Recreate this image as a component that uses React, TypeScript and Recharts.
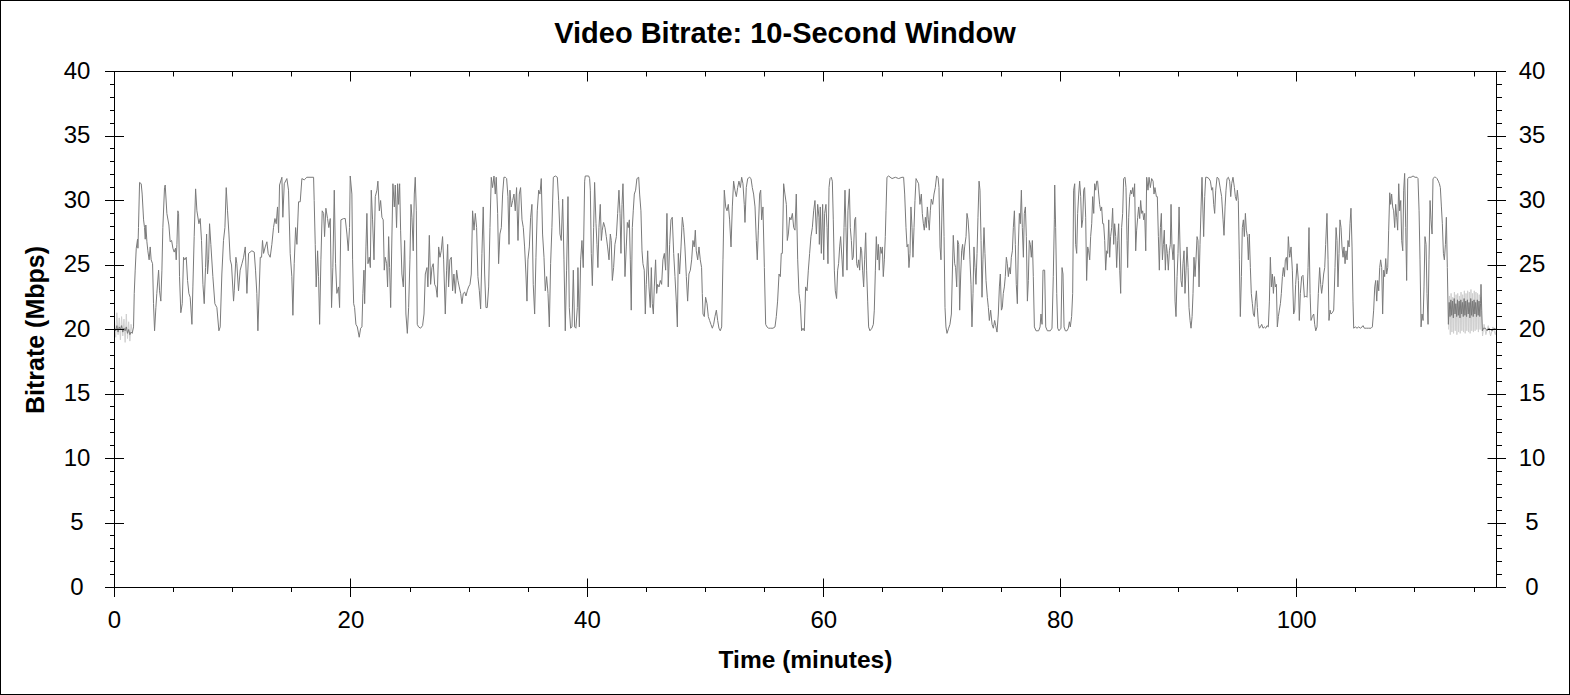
import React from 'react';
import { LineChart, Line, XAxis, YAxis } from 'recharts';

type P = [number, number];

// ---- data: [time (minutes), bitrate (Mbps)] ----
const startNoise: P[] = [
  [0, 20.1], [0.1, 19.9], [0.2, 20.3], [0.3, 19.8], [0.4, 20.2], [0.5, 20.0], [0.6, 20.3], [0.7, 19.8],
  [0.8, 20.1], [0.9, 19.9], [1.0, 20.2], [1.1, 19.7], [1.2, 20.0], [1.3, 19.6], [1.4, 19.8], [1.5, 19.7],
];
const startNoiseLight: P[] = [
  [0, 20.5], [0.1, 19.4], [0.2, 21.3], [0.3, 19.6], [0.4, 20.9], [0.5, 19.2], [0.6, 21.0], [0.7, 19.5],
  [0.8, 20.8], [0.9, 19.0], [1.0, 21.2], [1.1, 19.3], [1.2, 20.6], [1.3, 19.1], [1.4, 20.4], [1.5, 19.8],
];
const minutes0to20: P[] = [
  [1.61, 20.2], [1.67, 22.8], [1.75, 24.6], [1.84, 26.3], [1.95, 27.0], [1.98, 26.3], [2.03, 27.9], [2.12, 31.4],
  [2.26, 31.3], [2.34, 30.5], [2.46, 28.5], [2.54, 27.9], [2.60, 27.0], [2.65, 28.1], [2.74, 26.8], [2.82, 26.1],
  [2.93, 25.4], [3.02, 26.4], [3.10, 25.4], [3.22, 25.1], [3.30, 22.0], [3.39, 19.9], [3.50, 21.7], [3.58, 22.8],
  [3.73, 24.6], [3.81, 23.0], [3.92, 22.2], [4.01, 24.6], [4.09, 27.9], [4.23, 31.0], [4.29, 31.2], [4.43, 29.0],
  [4.60, 28.1], [4.71, 26.8], [4.83, 26.9], [4.94, 26.3], [5.05, 26.0], [5.16, 26.3], [5.22, 25.4], [5.28, 26.6],
  [5.36, 29.2], [5.42, 29.0], [5.50, 24.1], [5.61, 21.3], [5.73, 22.0], [5.84, 25.6], [5.95, 25.4], [6.07, 25.6],
  [6.18, 23.8], [6.29, 22.8], [6.40, 22.5], [6.55, 20.4], [6.63, 23.3], [6.74, 27.2], [6.86, 30.9], [6.97, 29.2],
  [7.14, 28.2], [7.25, 28.6], [7.36, 26.9], [7.48, 23.5], [7.59, 22.0], [7.70, 24.8], [7.79, 27.4], [7.87, 24.3],
  [7.96, 25.4], [8.04, 28.2], [8.15, 26.6], [8.32, 24.1], [8.49, 22.0], [8.66, 21.7], [8.83, 19.9], [8.94, 20.2],
  [9.08, 24.3], [9.22, 26.9], [9.34, 27.9], [9.45, 31.0], [9.56, 29.2], [9.68, 27.4], [9.79, 25.4], [9.90, 25.0],
  [10.07, 22.2], [10.13, 23.0], [10.27, 25.6], [10.35, 25.1], [10.49, 23.0], [10.63, 24.6], [10.78, 25.1], [10.92, 25.6],
  [11.06, 26.4], [11.20, 22.8], [11.34, 25.9], [11.62, 26.1], [11.82, 26.0], [11.93, 24.6], [12.04, 22.8], [12.13, 19.9],
  [12.21, 22.2], [12.33, 25.6], [12.44, 25.6], [12.52, 26.9], [12.61, 25.9], [12.75, 26.4], [12.89, 26.8], [13.00, 25.9],
  [13.17, 25.6], [13.31, 26.6], [13.45, 27.9], [13.57, 28.6], [13.68, 28.2], [13.79, 29.5], [13.88, 27.5], [13.96, 31.2],
  [14.16, 31.8], [14.24, 28.7], [14.36, 31.3], [14.58, 31.7], [14.72, 30.8], [14.86, 25.9], [15.00, 24.1], [15.09, 21.1],
  [15.20, 25.1], [15.32, 27.9], [15.43, 26.6], [15.57, 29.9], [15.71, 29.9], [15.85, 31.7], [16.05, 31.6], [16.27, 31.8],
  [16.84, 31.8], [16.89, 30.0], [16.98, 26.6], [17.06, 23.3], [17.18, 26.1], [17.26, 24.1], [17.35, 20.4], [17.46, 25.4],
  [17.57, 29.2], [17.69, 29.0], [17.77, 27.2], [17.88, 29.4], [18.02, 28.6], [18.13, 27.9], [18.25, 28.6], [18.36, 21.7],
  [18.47, 24.8], [18.59, 30.8], [18.70, 25.1], [18.81, 22.8], [18.95, 23.3], [19.04, 21.7], [19.15, 28.5], [19.38, 28.6],
  [19.52, 28.6], [19.66, 27.4], [19.77, 26.1], [19.88, 27.9],
];
const minutes20to40: P[] = [
  [19.94, 31.9], [20.08, 30.5], [20.14, 25.4], [20.23, 22.0], [20.31, 21.7], [20.42, 20.4], [20.54, 20.2], [20.70, 19.4],
  [20.82, 20.1], [20.93, 20.2], [21.01, 22.8], [21.10, 24.6], [21.16, 22.0], [21.27, 26.4], [21.35, 29.0], [21.44, 25.1],
  [21.55, 25.6], [21.64, 24.8], [21.72, 30.8], [21.83, 28.5], [21.95, 25.4], [22.06, 30.3], [22.20, 30.8], [22.28, 31.5],
  [22.40, 29.2], [22.51, 30.0], [22.62, 28.7], [22.73, 28.5], [22.82, 24.6], [22.90, 25.6], [23.02, 25.1], [23.10, 23.3],
  [23.19, 27.2], [23.27, 24.8], [23.36, 21.7], [23.47, 27.4], [23.55, 31.3], [23.67, 29.5], [23.75, 31.2], [23.86, 27.9],
  [23.95, 31.3], [24.03, 29.7], [24.12, 31.3], [24.20, 27.7], [24.31, 24.3], [24.43, 23.3], [24.54, 26.9], [24.65, 21.2],
  [24.77, 19.7], [24.88, 21.7], [24.99, 25.4], [25.08, 29.7], [25.16, 28.7], [25.27, 26.1], [25.36, 30.5], [25.44, 31.8],
  [25.53, 29.2], [25.61, 20.4], [25.72, 20.2], [25.89, 20.1], [26.06, 20.3], [26.18, 21.2], [26.29, 24.3], [26.43, 24.8],
  [26.51, 23.3], [26.63, 27.3], [26.74, 23.5], [26.85, 24.8], [26.96, 25.1], [27.08, 23.5], [27.19, 23.3], [27.30, 22.5],
  [27.42, 26.4], [27.53, 25.6], [27.64, 26.1], [27.75, 27.2], [27.84, 25.4], [27.98, 21.2], [28.09, 24.6], [28.18, 26.6],
  [28.26, 23.3], [28.37, 25.4], [28.49, 25.6], [28.60, 23.0], [28.71, 24.3], [28.83, 22.8], [28.94, 24.6], [29.05, 23.8],
  [29.16, 23.3], [29.28, 22.8], [29.39, 22.0], [29.50, 22.8], [29.62, 22.9], [29.73, 22.6], [29.84, 23.0], [29.95, 23.3],
  [30.07, 23.5], [30.18, 24.3], [30.29, 29.2], [30.41, 27.7], [30.52, 29.0], [30.63, 27.9], [30.74, 24.1], [30.86, 23.0],
  [30.97, 21.6], [31.08, 25.9], [31.19, 29.5], [31.31, 24.3], [31.42, 21.7], [31.53, 21.7], [31.65, 23.3], [31.76, 27.9],
  [31.87, 31.8], [31.98, 31.0], [32.10, 31.9], [32.21, 30.5], [32.29, 31.8], [32.41, 29.0], [32.49, 25.1], [32.60, 27.4],
  [32.72, 27.9], [32.83, 30.5], [32.94, 31.8], [33.06, 31.8], [33.17, 31.7], [33.28, 30.3], [33.37, 26.6], [33.45, 30.8],
  [33.56, 29.5], [33.68, 30.0], [33.79, 30.5], [33.90, 29.2], [34.01, 31.0], [34.13, 26.9], [34.24, 30.5], [34.35, 31.0],
  [34.47, 28.5], [34.58, 27.9], [34.69, 26.4], [34.80, 24.3], [34.89, 22.2], [34.97, 25.4], [35.09, 26.4], [35.20, 28.7],
  [35.31, 29.7], [35.42, 23.5], [35.54, 21.2], [35.65, 25.6], [35.76, 29.2], [35.88, 30.8], [35.99, 30.5], [36.10, 31.7],
  [36.21, 27.4], [36.33, 25.6], [36.44, 23.0], [36.55, 24.1], [36.67, 22.8], [36.78, 20.2], [36.89, 25.1], [37.00, 27.9],
  [37.12, 31.8], [37.29, 31.9], [37.46, 31.8], [37.57, 30.0], [37.68, 27.4], [37.79, 26.9], [37.91, 30.1], [38.02, 25.4],
  [38.13, 19.9], [38.24, 24.6], [38.36, 30.3], [38.47, 21.7], [38.58, 20.1], [38.70, 20.2], [38.81, 24.6], [38.92, 20.2],
  [39.03, 20.1], [39.15, 21.7], [39.20, 24.8], [39.32, 20.2], [39.43, 25.4], [39.54, 26.9], [39.65, 24.8], [39.77, 31.5],
];
const minutes40to60: P[] = [
  [39.82, 31.9], [40.11, 31.9], [40.19, 31.7], [40.25, 30.8], [40.33, 25.9], [40.42, 23.4], [40.53, 27.9], [40.61, 31.4],
  [40.73, 28.2], [40.81, 26.6], [40.89, 24.8], [40.98, 27.9], [41.09, 29.7], [41.18, 26.9], [41.26, 27.7], [41.37, 28.3],
  [41.49, 27.9], [41.60, 27.2], [41.71, 26.4], [41.83, 25.4], [41.94, 27.4], [42.02, 26.9], [42.11, 23.8], [42.22, 24.8],
  [42.33, 26.6], [42.45, 27.2], [42.56, 29.0], [42.67, 30.8], [42.76, 29.0], [42.84, 25.9], [42.93, 29.7], [43.01, 31.3],
  [43.09, 28.5], [43.18, 24.1], [43.29, 26.4], [43.38, 28.3], [43.46, 27.9], [43.55, 28.5], [43.63, 25.4], [43.71, 21.5],
  [43.80, 27.9], [43.88, 29.2], [43.97, 30.5], [44.08, 30.8], [44.19, 31.7], [44.34, 31.8], [44.42, 30.5], [44.53, 29.2],
  [44.62, 26.1], [44.70, 25.1], [44.81, 24.6], [44.90, 21.2], [44.98, 23.5], [45.10, 26.1], [45.21, 23.3], [45.32, 21.7],
  [45.41, 24.8], [45.49, 22.0], [45.58, 21.2], [45.66, 23.3], [45.77, 25.4], [45.86, 22.8], [45.94, 23.5], [46.06, 23.3],
  [46.17, 23.8], [46.28, 23.5], [46.39, 25.4], [46.51, 25.9], [46.62, 24.6], [46.73, 29.0], [46.84, 23.3], [46.96, 26.6],
  [47.07, 28.5], [47.18, 28.7], [47.30, 25.9], [47.41, 24.1], [47.52, 22.2], [47.61, 20.2], [47.69, 25.9], [47.80, 24.3],
  [47.92, 26.4], [48.03, 28.7], [48.14, 27.9], [48.25, 26.4], [48.37, 24.1], [48.48, 22.2], [48.59, 24.3], [48.71, 24.6],
  [48.82, 25.4], [48.93, 26.9], [49.04, 26.4], [49.13, 27.7], [49.21, 26.1], [49.33, 25.4], [49.44, 26.4], [49.55, 25.4],
  [49.66, 24.8], [49.72, 22.8], [49.78, 21.2], [49.89, 21.0], [50.00, 22.5], [50.12, 22.0], [50.23, 21.0], [50.34, 20.7],
  [50.45, 20.4], [50.57, 20.1], [50.68, 20.4], [50.79, 21.0], [50.91, 21.5], [51.02, 20.7], [51.13, 20.1], [51.24, 19.9],
  [51.36, 20.2], [51.47, 25.4], [51.58, 30.8], [51.70, 29.5], [51.81, 29.2], [51.92, 29.7], [52.03, 28.5], [52.15, 26.4],
  [52.26, 29.5], [52.37, 31.5], [52.48, 30.8], [52.60, 30.3], [52.71, 31.0], [52.82, 31.5], [52.94, 31.0], [53.05, 31.8],
  [53.16, 31.3], [53.27, 29.7], [53.33, 28.3], [53.44, 31.0], [53.56, 31.7], [53.73, 31.8], [53.84, 31.7], [53.95, 31.0],
  [54.06, 30.5], [54.18, 29.5], [54.29, 26.9], [54.37, 25.4], [54.46, 27.7], [54.57, 30.5], [54.66, 30.8], [54.74, 28.5],
  [54.85, 29.5], [54.97, 24.8], [55.08, 20.4], [55.19, 20.2], [55.33, 20.1], [55.47, 20.1], [55.70, 20.1], [55.87, 20.2],
  [55.98, 21.0], [56.09, 22.2], [56.21, 24.3], [56.32, 24.1], [56.40, 25.9], [56.49, 25.9], [56.60, 31.3], [56.71, 30.5],
  [56.83, 29.7], [56.91, 26.9], [57.00, 27.4], [57.11, 28.7], [57.22, 28.5], [57.34, 29.0], [57.45, 27.9], [57.56, 27.7],
  [57.67, 30.5], [57.79, 25.4], [57.90, 22.8], [58.01, 22.0], [58.12, 19.9], [58.24, 20.1], [58.35, 19.9], [58.46, 23.3],
  [58.58, 23.0], [58.69, 24.6], [58.80, 25.9], [58.91, 27.2], [59.03, 27.9], [59.14, 29.2], [59.25, 30.0], [59.37, 27.4],
  [59.48, 29.7], [59.59, 28.7],
];
const minutes60to80: P[] = [
  [59.62, 26.6], [59.70, 29.5], [59.79, 25.9], [59.90, 29.7], [59.99, 25.4], [60.07, 29.0], [60.18, 29.7], [60.27, 27.9],
  [60.35, 25.1], [60.44, 31.0], [60.52, 31.7], [60.63, 31.8], [60.72, 31.5], [60.80, 28.5], [60.89, 24.6], [60.97, 23.0],
  [61.08, 22.4], [61.17, 24.6], [61.25, 25.1], [61.34, 26.4], [61.42, 27.2], [61.54, 25.4], [61.62, 24.1], [61.71, 27.9],
  [61.79, 30.8], [61.87, 27.9], [61.96, 24.6], [62.04, 29.2], [62.16, 30.9], [62.24, 27.9], [62.33, 26.9], [62.41, 25.4],
  [62.49, 25.6], [62.61, 28.5], [62.69, 28.7], [62.78, 25.1], [62.86, 24.8], [62.95, 25.4], [63.03, 24.6], [63.12, 26.4],
  [63.20, 26.1], [63.28, 24.6], [63.37, 23.3], [63.45, 25.4], [63.54, 27.5], [63.62, 24.6], [63.71, 22.2], [63.79, 20.2],
  [63.90, 19.9], [64.07, 20.1], [64.19, 20.4], [64.27, 21.5], [64.36, 24.6], [64.44, 27.2], [64.53, 25.4], [64.61, 26.6],
  [64.69, 24.6], [64.78, 26.4], [64.86, 25.9], [64.95, 26.4], [65.03, 24.1], [65.12, 25.4], [65.20, 27.2], [65.26, 29.2],
  [65.34, 31.8], [65.48, 31.9], [65.77, 31.7], [66.05, 31.8], [66.33, 31.7], [66.61, 31.8], [66.75, 31.8], [66.84, 30.5],
  [66.95, 27.9], [67.04, 26.4], [67.12, 26.6], [67.20, 24.8], [67.29, 25.9], [67.37, 29.5], [67.46, 27.9], [67.54, 25.6],
  [67.63, 27.9], [67.71, 30.0], [67.80, 31.7], [67.91, 31.5], [68.02, 31.3], [68.13, 29.7], [68.25, 30.5], [68.33, 29.0],
  [68.42, 28.2], [68.50, 27.7], [68.59, 28.7], [68.67, 27.9], [68.76, 29.5], [68.84, 28.5], [68.92, 27.7], [69.01, 29.2],
  [69.09, 30.1], [69.21, 29.7], [69.32, 30.5], [69.43, 31.0], [69.54, 31.9], [69.66, 31.8], [69.74, 31.0], [69.83, 26.4],
  [69.91, 25.4], [70.00, 29.5], [70.08, 31.7], [70.17, 27.2], [70.25, 21.7], [70.33, 20.2], [70.42, 19.7], [70.56, 20.1],
  [70.67, 20.4], [70.79, 21.2], [70.87, 24.3], [70.95, 27.3], [71.07, 25.1], [71.15, 24.8], [71.24, 23.3], [71.32, 26.9],
  [71.41, 26.6], [71.49, 21.5], [71.58, 24.3], [71.66, 26.1], [71.74, 26.6], [71.83, 25.4], [71.91, 26.4], [72.03, 27.2],
  [72.11, 29.0], [72.20, 28.5], [72.28, 27.4], [72.36, 25.4], [72.45, 23.5], [72.53, 20.2], [72.62, 22.8], [72.70, 26.4],
  [72.79, 24.8], [72.87, 23.5], [72.96, 25.9], [73.04, 28.7], [73.13, 31.5], [73.21, 30.8], [73.30, 26.9], [73.38, 22.5],
  [73.46, 25.4], [73.55, 27.9], [73.63, 25.9], [73.72, 23.8], [73.83, 22.5], [73.92, 21.7], [74.00, 20.7], [74.11, 21.5],
  [74.23, 20.4], [74.34, 20.1], [74.45, 20.7], [74.54, 20.3], [74.65, 19.8], [74.76, 21.2], [74.85, 23.3], [74.93, 24.3],
  [75.02, 21.5], [75.10, 21.7], [75.18, 22.8], [75.27, 23.3], [75.35, 24.1], [75.44, 25.6], [75.52, 25.1], [75.61, 24.1],
  [75.69, 24.8], [75.78, 24.3], [75.86, 25.6], [75.95, 26.1], [76.03, 27.9], [76.12, 29.2], [76.20, 26.6], [76.28, 23.5],
  [76.37, 22.0], [76.45, 26.4], [76.54, 29.0], [76.62, 28.2], [76.71, 30.8], [76.79, 27.9], [76.88, 25.6], [76.96, 29.0],
  [77.05, 29.5], [77.13, 27.2], [77.22, 22.2], [77.30, 23.8], [77.38, 26.9], [77.47, 26.6], [77.55, 25.6], [77.64, 26.9],
  [77.72, 24.1], [77.81, 20.2], [77.95, 19.9], [78.17, 19.9], [78.29, 20.2], [78.37, 21.2], [78.46, 20.4], [78.54, 24.6],
  [78.68, 24.6], [78.77, 20.2], [78.91, 19.9], [79.16, 19.9], [79.30, 20.1], [79.41, 24.1], [79.50, 28.5],
];
const minutes80to100: P[] = [
  [79.53, 31.2], [79.61, 27.9], [79.70, 22.8], [79.78, 20.1], [79.89, 19.9], [80.06, 20.1], [80.15, 24.8], [80.23, 24.3],
  [80.32, 20.2], [80.43, 19.9], [80.57, 19.9], [80.68, 20.1], [80.77, 20.6], [80.85, 20.2], [80.96, 21.0], [81.05, 22.8],
  [81.13, 30.8], [81.22, 31.3], [81.30, 26.6], [81.39, 25.9], [81.47, 29.0], [81.56, 30.5], [81.64, 31.5], [81.73, 30.3],
  [81.81, 27.9], [81.90, 28.5], [81.98, 30.8], [82.06, 31.0], [82.15, 28.7], [82.23, 23.8], [82.32, 26.4], [82.40, 26.1],
  [82.49, 25.4], [82.57, 27.2], [82.66, 28.2], [82.74, 30.3], [82.83, 29.0], [82.91, 31.3], [83.00, 30.8], [83.08, 31.5],
  [83.16, 31.5], [83.25, 30.5], [83.33, 29.7], [83.42, 29.2], [83.50, 29.5], [83.59, 28.2], [83.67, 28.2], [83.76, 26.9],
  [83.84, 24.6], [83.93, 26.1], [84.01, 25.9], [84.10, 28.5], [84.18, 25.6], [84.26, 27.2], [84.35, 27.9], [84.43, 29.4],
  [84.52, 26.6], [84.60, 28.2], [84.69, 27.2], [84.77, 24.8], [84.86, 26.9], [84.94, 28.2], [85.03, 24.6], [85.11, 22.8],
  [85.19, 27.9], [85.28, 29.0], [85.36, 31.7], [85.48, 31.8], [85.56, 31.0], [85.65, 26.9], [85.70, 24.8], [85.79, 28.7],
  [85.87, 30.3], [85.96, 30.8], [86.04, 30.5], [86.13, 31.0], [86.21, 30.3], [86.29, 31.3], [86.38, 26.1], [86.46, 27.7],
  [86.55, 28.7], [86.63, 29.5], [86.72, 28.6], [86.80, 30.0], [86.89, 29.0], [86.97, 29.2], [87.06, 28.5], [87.14, 29.0],
  [87.23, 26.1], [87.31, 31.8], [87.42, 30.8], [87.51, 31.8], [87.62, 31.0], [87.73, 31.7], [87.85, 31.5], [87.93, 30.5],
  [88.01, 31.0], [88.13, 30.3], [88.21, 30.3], [88.30, 27.2], [88.38, 24.6], [88.47, 27.9], [88.55, 29.0], [88.64, 25.4],
  [88.72, 26.6], [88.80, 27.7], [88.89, 24.6], [88.97, 26.6], [89.06, 25.9], [89.14, 24.6], [89.23, 26.1], [89.31, 26.6],
  [89.37, 29.7], [89.45, 26.4], [89.54, 25.4], [89.62, 26.6], [89.71, 22.2], [89.79, 21.0], [89.88, 24.1], [89.96, 25.9],
  [90.05, 29.5], [90.13, 26.4], [90.21, 23.8], [90.30, 23.3], [90.38, 25.1], [90.47, 26.1], [90.55, 22.8], [90.64, 24.6],
  [90.72, 26.4], [90.81, 24.8], [90.89, 21.7], [90.98, 20.7], [91.06, 20.1], [91.15, 21.0], [91.23, 22.8], [91.31, 25.6],
  [91.40, 24.1], [91.48, 25.4], [91.57, 27.2], [91.65, 26.9], [91.74, 23.3], [91.82, 26.6], [91.91, 29.5], [91.99, 31.8],
  [92.13, 27.2], [92.22, 30.3], [92.30, 31.8], [92.41, 31.8], [92.58, 31.7], [92.70, 31.5], [92.81, 30.8], [92.89, 31.0],
  [92.98, 29.7], [93.06, 29.0], [93.15, 30.8], [93.26, 31.8], [93.40, 31.7], [93.54, 30.9], [93.65, 30.3], [93.77, 28.5],
  [93.85, 27.3], [93.94, 29.5], [94.02, 30.8], [94.11, 31.7], [94.22, 31.8], [94.33, 31.5], [94.42, 30.3], [94.50, 31.3],
  [94.61, 31.8], [94.73, 31.0], [94.81, 30.3], [94.90, 30.0], [94.98, 30.8], [95.06, 30.0], [95.15, 25.4], [95.23, 21.0],
  [95.32, 24.1], [95.40, 27.9], [95.49, 28.5], [95.57, 27.2], [95.66, 29.0], [95.74, 27.7], [95.83, 27.2], [95.91, 25.4],
  [95.99, 27.4], [96.08, 24.8], [96.16, 22.8], [96.25, 22.0], [96.33, 21.2], [96.42, 21.0], [96.50, 22.2], [96.59, 23.0],
  [96.67, 21.7], [96.76, 20.4], [96.84, 20.1], [96.93, 20.2], [97.04, 20.4], [97.15, 20.1], [97.26, 20.2], [97.38, 20.1],
  [97.49, 20.3], [97.60, 20.2], [97.69, 22.2], [97.77, 25.6], [97.86, 23.3], [97.94, 24.3], [98.03, 22.8], [98.11, 24.1],
  [98.20, 23.3], [98.28, 23.5], [98.36, 20.2], [98.45, 21.0], [98.53, 21.5], [98.62, 22.0], [98.70, 22.8], [98.79, 24.1],
  [98.87, 24.8], [98.96, 24.1], [99.04, 25.4], [99.13, 25.6], [99.21, 24.6], [99.29, 27.2], [99.38, 25.9],
];
const minutes100toEnd: P[] = [
  [99.41, 25.6], [99.52, 26.4], [99.63, 24.6], [99.74, 21.2], [99.83, 21.5], [99.91, 23.5], [100.03, 25.1], [100.14, 23.8],
  [100.22, 20.7], [100.31, 22.8], [100.42, 24.1], [100.53, 24.2], [100.65, 22.5], [100.76, 22.6], [100.87, 22.5], [100.96, 24.8],
  [101.04, 27.9], [101.13, 22.8], [101.21, 20.7], [101.32, 21.0], [101.44, 21.2], [101.52, 20.4], [101.61, 19.9], [101.72, 20.2],
  [101.83, 22.8], [101.94, 24.8], [102.03, 23.5], [102.11, 22.8], [102.20, 23.5], [102.28, 24.3], [102.37, 24.8], [102.45, 26.6],
  [102.56, 29.0], [102.65, 25.4], [102.73, 20.7], [102.82, 21.5], [102.90, 21.2], [103.02, 21.3], [103.13, 21.5], [103.24, 24.8],
  [103.33, 27.9], [103.41, 26.9], [103.49, 23.3], [103.58, 25.9], [103.66, 28.5], [103.75, 27.9], [103.83, 26.4], [103.92, 25.6],
  [104.00, 26.4], [104.09, 25.1], [104.17, 26.1], [104.26, 25.4], [104.34, 26.9], [104.43, 26.4], [104.51, 28.2], [104.59, 29.4],
  [104.68, 26.4], [104.76, 22.2], [104.82, 20.1], [104.96, 20.2], [105.10, 20.1], [105.24, 20.2], [105.38, 20.1], [105.53, 20.2],
  [105.61, 20.3], [105.72, 20.1], [105.89, 20.1], [106.09, 20.1], [106.29, 20.1], [106.40, 20.2], [106.51, 21.5], [106.60, 23.3],
  [106.68, 23.8], [106.77, 22.2], [106.85, 23.8], [106.94, 23.0], [107.02, 24.8], [107.10, 25.4], [107.19, 24.8], [107.27, 21.2],
  [107.36, 24.6], [107.44, 24.1], [107.53, 25.5], [107.61, 24.3], [107.70, 24.8], [107.78, 27.7], [107.87, 30.6], [107.95, 29.7],
  [108.03, 30.5], [108.12, 29.5], [108.20, 29.2], [108.29, 27.9], [108.37, 29.7], [108.46, 28.7], [108.54, 27.7], [108.63, 31.3],
  [108.71, 29.2], [108.80, 30.0], [108.88, 26.9], [108.97, 26.1], [109.05, 30.8], [109.13, 32.1], [109.22, 27.9], [109.30, 23.8],
  [109.39, 31.7], [109.50, 31.8], [109.67, 31.8], [109.84, 31.9], [110.01, 31.8], [110.18, 31.8], [110.26, 31.7], [110.35, 29.2],
  [110.43, 25.4], [110.52, 20.2], [110.60, 21.2], [110.69, 20.7], [110.77, 23.3], [110.85, 27.2], [110.94, 26.6], [111.02, 22.8],
  [111.11, 20.4], [111.19, 25.4], [111.28, 30.0], [111.36, 28.5], [111.45, 27.4], [111.53, 31.7], [111.64, 31.8], [111.76, 31.8],
  [111.87, 31.7], [111.98, 31.5], [112.07, 31.3], [112.15, 31.0], [112.24, 29.5], [112.32, 28.2], [112.41, 25.9], [112.49, 25.4],
  [112.58, 26.6], [112.66, 28.7], [112.74, 24.8], [112.83, 20.4],
];
const endNoise: P[] = [
  [112.90, 22.1], [112.97, 21.0], [113.04, 22.3], [113.11, 21.1], [113.18, 22.2], [113.25, 20.9], [113.32, 22.4], [113.39, 21.2],
  [113.46, 22.0], [113.53, 21.0], [113.60, 22.3], [113.67, 21.1], [113.74, 22.2], [113.81, 20.9], [113.88, 22.3], [113.95, 21.2],
  [114.02, 22.1], [114.09, 21.0], [114.16, 22.4], [114.23, 21.1], [114.30, 22.2], [114.37, 21.0], [114.44, 22.3], [114.51, 21.2],
  [114.58, 22.1], [114.65, 20.9], [114.72, 22.4], [114.79, 21.1], [114.86, 22.2], [114.93, 21.0], [115.00, 22.3], [115.07, 21.2],
  [115.14, 22.1], [115.21, 21.0], [115.28, 22.3], [115.35, 21.1], [115.42, 22.2], [115.49, 21.0], [115.55, 22.0], [115.59, 23.5],
  [115.65, 21.5], [115.70, 19.9], [115.80, 20.1], [115.96, 20.1], [116.10, 19.9], [116.25, 20.1], [116.38, 20.0], [116.55, 19.9],
  [116.70, 20.1], [116.89, 20.0],
];
const endNoiseLight: P[] = [
  [112.85, 20.0], [112.92, 22.6], [112.99, 19.6], [113.06, 22.8], [113.13, 19.8], [113.20, 22.5], [113.27, 19.7], [113.34, 22.9],
  [113.41, 19.9], [113.48, 22.7], [113.55, 19.6], [113.62, 22.8], [113.69, 19.8], [113.76, 22.6], [113.83, 19.7], [113.90, 22.9],
  [113.97, 19.9], [114.04, 22.7], [114.11, 19.8], [114.18, 23.0], [114.25, 19.7], [114.32, 22.8], [114.39, 19.9], [114.46, 23.0],
  [114.53, 19.8], [114.60, 22.9], [114.67, 19.7], [114.74, 23.1], [114.81, 19.9], [114.88, 22.8], [114.95, 19.8], [115.02, 23.0],
  [115.09, 19.9], [115.16, 22.9], [115.23, 20.0], [115.30, 22.8], [115.37, 19.8], [115.44, 22.7], [115.51, 20.0], [115.56, 22.5],
  [115.72, 19.5], [115.85, 20.4], [116.00, 19.6], [116.20, 20.3], [116.40, 19.5], [116.60, 20.2], [116.80, 19.6], [116.89, 20.0],
];

const xTicks = [0, 5, 10, 15, 20, 25, 30, 35, 40, 45, 50, 55, 60, 65, 70, 75, 80, 85, 90, 95, 100, 105, 110, 115];
const xLabelTicks = [0, 20, 40, 60, 80, 100];
const yTicks = Array.from({ length: 41 }, (_, i) => i);
const yLabelTicks = [0, 5, 10, 15, 20, 25, 30, 35, 40];

const toRows = (pts: P[]) => pts.map(([t, v]) => ({ t, v }));
const mainRows = toRows([
  ...startNoise, ...minutes0to20, ...minutes20to40, ...minutes40to60,
  ...minutes60to80, ...minutes80to100, ...minutes100toEnd, ...endNoise,
]);
const lightStartRows = toRows(startNoiseLight);
const lightEndRows = toRows(endNoiseLight);

// ---- layout ----
const W = 1568;
const H = 693;
const L = 113.5;
const R = 1495.5;
const T = 70.5;
const B = 586.5;
const LEFT_W = 100;
const RIGHT_W = 60;
const TOP_H = 30;
const BOTTOM_H = 60;
const FONT = '"Liberation Sans", Arial, Helvetica, sans-serif';
const crisp = (v: number) => Math.round(v - 0.5) + 0.5;

const BottomTick = (props: any) => {
  const x = crisp(props.x);
  const val = props.payload.value;
  const major = xLabelTicks.includes(val);
  return (
    <g>
      <line x1={x} x2={x} y1={major ? B - 9 : B} y2={major ? B + 9.5 : B + 4.5} stroke="#000" strokeWidth={1} />
      {major && (
        <text x={props.x} y={626.7} textAnchor="middle" fontSize={24} fontFamily={FONT} fill="#000">{val}</text>
      )}
    </g>
  );
};
const TopTick = (props: any) => {
  const x = crisp(props.x);
  const major = xLabelTicks.includes(props.payload.value);
  return <line x1={x} x2={x} y1={T} y2={major ? T + 10 : T + 5} stroke="#000" strokeWidth={1} />;
};
const LeftTick = (props: any) => {
  const y = crisp(props.y);
  const val = props.payload.value;
  const major = yLabelTicks.includes(val);
  return (
    <g>
      <line x1={major ? L - 9.5 : L - 4.5} x2={major ? L + 9.5 : L} y1={y} y2={y} stroke="#000" strokeWidth={1} />
      {major && (
        <text x={76} y={props.y + 7} textAnchor="middle" fontSize={24} fontFamily={FONT} fill="#000">{val}</text>
      )}
    </g>
  );
};
const RightTick = (props: any) => {
  const y = crisp(props.y);
  const val = props.payload.value;
  const major = yLabelTicks.includes(val);
  return (
    <g>
      <line x1={major ? R - 9 : R} x2={major ? R + 9.5 : R + 5.5} y1={y} y2={y} stroke="#000" strokeWidth={1} />
      {major && (
        <text x={1531} y={props.y + 7} textAnchor="middle" fontSize={24} fontFamily={FONT} fill="#000">{val}</text>
      )}
    </g>
  );
};

export default function App() {
  return (
    <div
      style={{
        position: 'absolute', left: 0, top: 0, width: 1570, height: 695,
        border: '1px solid #000', boxSizing: 'border-box', background: '#fff', overflow: 'hidden',
      }}
    >
      <LineChart
        width={W}
        height={H}
        margin={{ top: T - TOP_H, right: W - R - RIGHT_W, bottom: H - B - BOTTOM_H, left: L - LEFT_W }}
        style={{ fontFamily: FONT }}
      >
        <XAxis
          xAxisId="bottom" dataKey="t" type="number" domain={[0, 116.9]} ticks={xTicks} interval={0}
          allowDataOverflow height={BOTTOM_H} tickLine={false} axisLine={{ stroke: '#000' }} tick={BottomTick}
        />
        <XAxis
          xAxisId="top" orientation="top" dataKey="t" type="number" domain={[0, 116.9]} ticks={xTicks} interval={0}
          allowDataOverflow height={TOP_H} tickLine={false} axisLine={{ stroke: '#000' }} tick={TopTick}
        />
        <YAxis
          yAxisId="left" type="number" domain={[0, 40]} ticks={yTicks} interval={0} allowDataOverflow
          width={LEFT_W} tickLine={false} axisLine={{ stroke: '#000' }} tick={LeftTick}
        />
        <YAxis
          yAxisId="right" orientation="right" type="number" domain={[0, 40]} ticks={yTicks} interval={0}
          allowDataOverflow width={RIGHT_W} tickLine={false} axisLine={{ stroke: '#000' }} tick={RightTick}
        />
        <Line
          xAxisId="top" yAxisId="right" data={lightStartRows} dataKey="v" type="linear" dot={false}
          stroke="#cfcfcf" strokeWidth={1} isAnimationActive={false}
        />
        <Line
          xAxisId="top" yAxisId="right" data={lightEndRows} dataKey="v" type="linear" dot={false}
          stroke="#cfcfcf" strokeWidth={1} isAnimationActive={false}
        />
        <Line
          xAxisId="bottom" yAxisId="left" data={mainRows} dataKey="v" type="linear" dot={false}
          stroke="#7a7a7a" strokeWidth={1} isAnimationActive={false}
        />
      </LineChart>
      <svg
        width={W} height={H}
        style={{ position: 'absolute', left: 0, top: 0, pointerEvents: 'none' }}
      >
        <text x={784} y={42.3} textAnchor="middle" fontSize={29} fontWeight="bold" fontFamily={FONT} fill="#000">
          Video Bitrate: 10-Second Window
        </text>
        <text x={804.5} y={667.3} textAnchor="middle" fontSize={24.5} fontWeight="bold" fontFamily={FONT} fill="#000">
          Time (minutes)
        </text>
        <text
          x={43} y={329} textAnchor="middle" fontSize={25} fontWeight="bold" fontFamily={FONT} fill="#000"
          transform="rotate(-90 43 329)"
        >
          Bitrate (Mbps)
        </text>
      </svg>
    </div>
  );
}
